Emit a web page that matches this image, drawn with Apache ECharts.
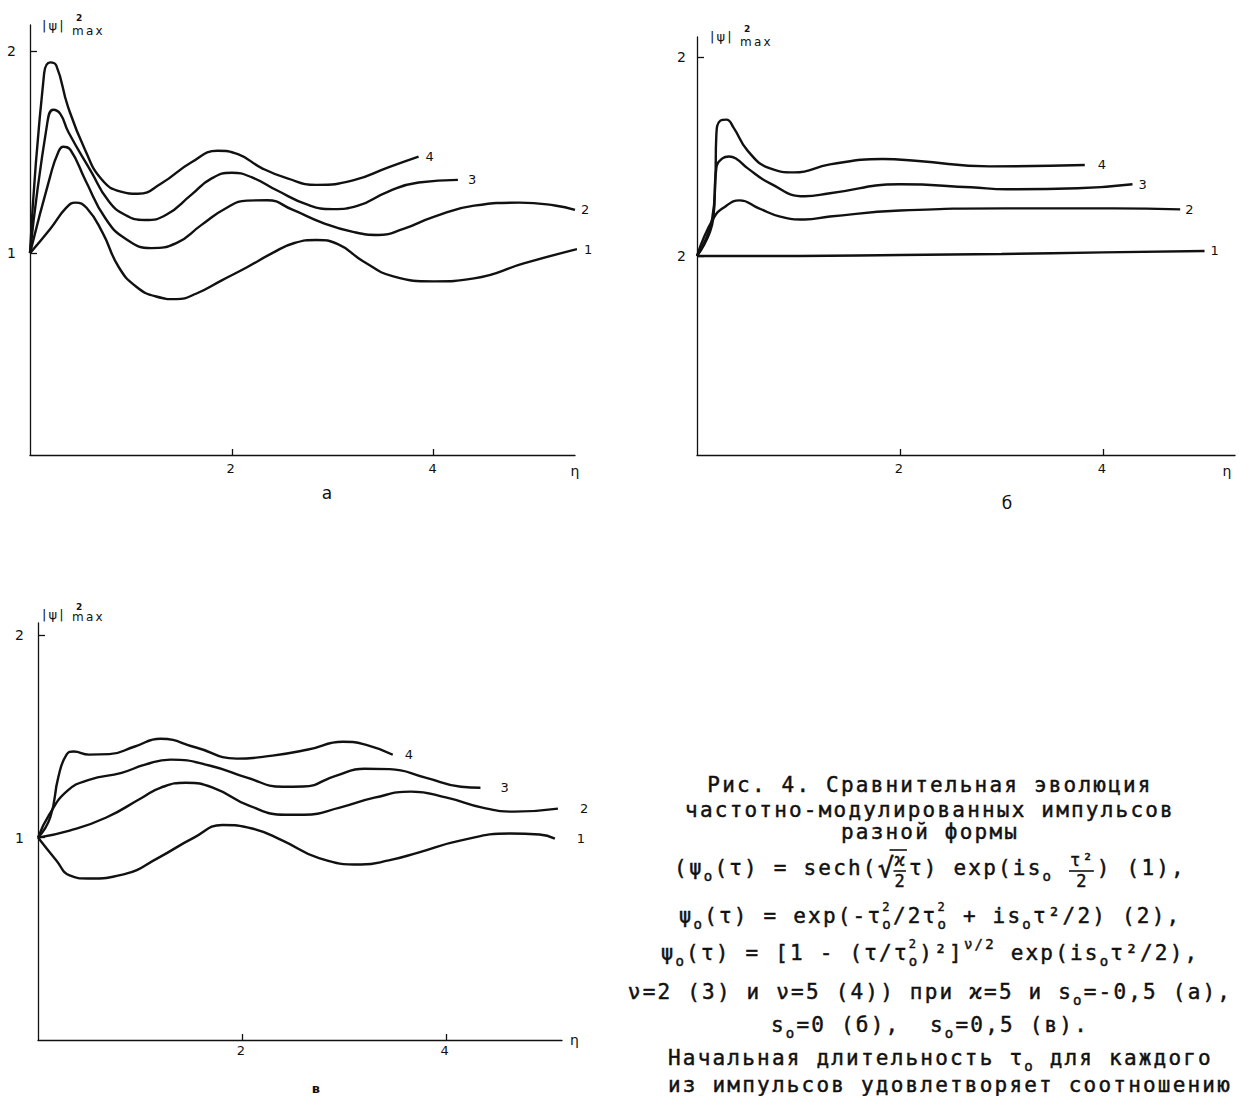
<!DOCTYPE html>
<html>
<head>
<meta charset="utf-8">
<script src="https://cdn.jsdelivr.net/npm/echarts@6/dist/echarts.min.js"></script>
<style>
  html, body { margin: 0; padding: 0; background: #fff; }
  #main { width: 1239px; height: 1096px; }
  /* typewriter look: wide letter spacing (svg renderer) */
  #main text { letter-spacing: 2.2px; }
</style>
</head>
<body>
<div id="main"></div>
<script>
// ---- panel а (s0 = -0,5) ----
var a1 = [[0, 1], [0.2, 1.12], [0.36, 1.225], [0.45, 1.25], [0.56, 1.225], [0.72, 1.1], [0.88, 0.93], [1.05, 0.835], [1.25, 0.785], [1.45, 0.772], [1.65, 0.8], [1.9, 0.865], [2.15, 0.93], [2.4, 1.0], [2.62, 1.05], [2.84, 1.065], [3.05, 1.045], [3.3, 0.96], [3.6, 0.885], [4.0, 0.86], [4.4, 0.875], [4.9, 0.95], [5.38, 1.015], [5.57, 1.035]];
var a2 = [[0, 1], [0.2, 1.38], [0.28, 1.5], [0.33, 1.527], [0.4, 1.512], [0.55, 1.36], [0.75, 1.17], [0.95, 1.07], [1.2, 1.025], [1.45, 1.05], [1.7, 1.14], [1.95, 1.225], [2.15, 1.26], [2.35, 1.262], [2.6, 1.215], [2.9, 1.15], [3.2, 1.105], [3.45, 1.09], [3.7, 1.12], [4.0, 1.18], [4.4, 1.235], [4.85, 1.25], [5.2, 1.236], [5.4, 1.214]];
var a3 = [[0, 1], [0.17, 1.64], [0.23, 1.71], [0.3, 1.69], [0.38, 1.6], [0.61, 1.4], [0.77, 1.264], [0.94, 1.19], [1.14, 1.164], [1.35, 1.19], [1.6, 1.29], [1.8, 1.37], [2.0, 1.398], [2.2, 1.375], [2.45, 1.31], [2.75, 1.24], [3.0, 1.218], [3.25, 1.235], [3.55, 1.305], [3.85, 1.35], [4.24, 1.363]];
var a4 = [[0, 1], [0.14, 1.89], [0.2, 1.945], [0.26, 1.93], [0.376, 1.726], [0.545, 1.512], [0.713, 1.363], [0.9, 1.305], [1.07, 1.294], [1.3, 1.345], [1.6, 1.45], [1.86, 1.507], [2.06, 1.49], [2.3, 1.42], [2.55, 1.37], [2.84, 1.338], [3.2, 1.36], [3.55, 1.425], [3.85, 1.478]];

// ---- panel б (s0 = 0) ----
var b1 = [[0, 1], [1.0, 1.0], [2.0, 1.005], [3.0, 1.01], [4.0, 1.018], [5.0, 1.025]];
var b2 = [[0, 1], [0.16, 1.188], [0.28, 1.249], [0.42, 1.279], [0.61, 1.239], [0.82, 1.198], [1.06, 1.183], [1.31, 1.198], [2.0, 1.228], [3.05, 1.239], [4.1, 1.239], [4.76, 1.234]];
var b3 = [[0, 1], [0.16, 1.188], [0.19, 1.44], [0.25, 1.49], [0.315, 1.5], [0.39, 1.487], [0.5, 1.44], [0.72, 1.365], [1.06, 1.3], [1.31, 1.315], [2.0, 1.36], [2.7, 1.345], [3.05, 1.335], [3.75, 1.34], [4.29, 1.36]];
var b4 = [[0, 1], [0.15, 1.188], [0.18, 1.376], [0.19, 1.6], [0.23, 1.68], [0.29, 1.685], [0.36, 1.645], [0.5, 1.528], [0.72, 1.44], [0.96, 1.42], [1.31, 1.46], [1.83, 1.487], [2.18, 1.477], [2.88, 1.45], [3.82, 1.457]];

// ---- panel в (s0 = 0,5) ----
var c1 = [[0, 1], [0.18, 0.887], [0.31, 0.813], [0.49, 0.798], [0.84, 0.818], [1.18, 0.9], [1.53, 1.0], [1.81, 1.062], [2.1, 1.045], [2.4, 0.985], [2.75, 0.9], [3.17, 0.867], [3.44, 0.887], [3.73, 0.926], [4.14, 0.985], [4.63, 1.02], [4.92, 1.015], [5.07, 0.995]];
var c2 = [[0, 1], [0.31, 1.034], [0.67, 1.099], [1.02, 1.197], [1.2, 1.246], [1.45, 1.271], [1.72, 1.246], [2.07, 1.158], [2.43, 1.113], [2.61, 1.113], [2.96, 1.148], [3.3, 1.197], [3.66, 1.227], [4.01, 1.197], [4.36, 1.148], [4.67, 1.128], [5.1, 1.143]];
var c3 = [[0, 1], [0.11, 1.113], [0.29, 1.232], [0.5, 1.285], [0.82, 1.32], [1.05, 1.36], [1.3, 1.385], [1.69, 1.355], [2.05, 1.296], [2.4, 1.251], [2.6, 1.252], [2.92, 1.305], [3.2, 1.34], [3.45, 1.338], [3.8, 1.296], [4.15, 1.251], [4.34, 1.246]];
var c4 = [[0, 1], [0.12, 1.1], [0.2, 1.3], [0.28, 1.41], [0.35, 1.425], [0.5, 1.41], [0.7, 1.412], [0.95, 1.45], [1.2, 1.488], [1.55, 1.445], [1.95, 1.39], [2.3, 1.405], [2.65, 1.435], [2.99, 1.473], [3.22, 1.458], [3.48, 1.409]];

// ticks
var xTickValues = [2, 4];
var yTickValues = [1, 2];
var yTickLabels = [['1', '2'], ['2', '2'], ['1', '2']];   // panel б really prints "2" twice
var panelNames = ['а', 'б', 'в'];
var xAxisName = 'η';

// caption text
var captionLines = [
  ['Рис. 4. Сравнительная эволюция'],
  ['частотно-модулированных импульсов'],
  ['разной формы'],
  ['(ψ', {sub: 'o'}, '(τ) = sech(', {num: 'ϰ', den: '2', root: true}, 'τ) exp(is', {sub: 'o'}, ' ', {num: 'τ²', den: '2'}, ') (1),'],
  ['ψ', {sub: 'o'}, '(τ) = exp(-τ', {sup: '2', sub: 'o'}, '/2τ', {sup: '2', sub: 'o'}, ' + is', {sub: 'o'}, 'τ²/2) (2),'],
  ['ψ', {sub: 'o'}, '(τ) = [1 - (τ/τ', {sup: '2', sub: 'o'}, ')²]', {sup: 'ν/2'}, ' exp(is', {sub: 'o'}, 'τ²/2),'],
  ['ν=2 (3) и ν=5 (4)) при ϰ=5 и s', {sub: 'o'}, '=-0,5 (а),'],
  ['s', {sub: 'o'}, '=0 (б),  s', {sub: 'o'}, '=0,5 (в).'],
  ['Начальная длительность τ', {sub: 'o'}, ' для каждого'],
  ['из импульсов удовлетворяет соотношению']
];

// ---- layout ----
var grids = [
  {left: 30, top: 25, width: 545, height: 430},
  {left: 697, top: 37, width: 538, height: 418},
  {left: 38, top: 623, width: 524, height: 417}
];
var xMax = [5.4, 5.3, 5.14];
var yMax = [2.13, 2.1, 2.06];
var ink = '#111';
var sans = '"DejaVu Sans", "Liberation Sans", sans-serif';
var mono = '"DejaVu Sans Mono", "Liberation Mono", monospace';
var LS = 2.2;                       // must match the css letter-spacing
var FS = 21, SUB = 14, SUP = 14, FR = 17;
var captionY = [785, 810, 832, 868, 916, 953, 992, 1025, 1058, 1085];
var captionCx = 930, captionLeft = 668;

function adv(size) { return size * 0.602 + LS; }
function len(s) { return Array.from(s).length; }

function partWidth(p) {
  if (typeof p === 'string') return len(p) * adv(FS);
  if (p.num) return Math.max(len(p.num), len(p.den)) * adv(FR) + 4 + (p.root ? adv(FS) : 0);
  var n = Math.max(p.sup ? len(p.sup) : 0, p.sub ? len(p.sub) : 0);
  return n * adv(p.sup && !p.sub ? SUP : SUB);
}

function txt(s, x, y, size, align) {
  return {type: 'text', x: x, y: y, silent: true,
    style: {text: s, fontSize: size, fontFamily: mono, fill: ink, stroke: ink, lineWidth: 0.45,
      align: align || 'left', verticalAlign: 'middle'}};
}
function seg(x1, y1, x2, y2) {
  return {type: 'line', silent: true, shape: {x1: x1, y1: y1, x2: x2, y2: y2}, style: {stroke: ink, lineWidth: 1.6}};
}

function buildLine(parts, y, x0, centered) {
  var w = 0;
  parts.forEach(function (p) { w += partWidth(p); });
  var x = centered ? x0 - w / 2 : x0;
  var out = [];
  parts.forEach(function (p) {
    var pw = partWidth(p);
    if (typeof p === 'string') {
      out.push(txt(p, x, y, FS));
    } else if (p.num) {
      var fx = x;
      if (p.root) {
        out.push(txt('√', x, y - 1, 27));
        fx = x + adv(FS);
        out.push(seg(fx - 3, y - 18, fx + pw - adv(FS) - 2, y - 18));
      }
      var fw = pw - (p.root ? adv(FS) : 0);
      out.push(txt(p.num, fx + fw / 2, y - 8, FR, 'center'));
      out.push(txt(p.den, fx + fw / 2, y + 13, FR, 'center'));
      out.push(seg(fx + 1, y + 3, fx + fw - 3, y + 3));
    } else {
      if (p.sup) out.push(txt(p.sup, x, y - 9, p.sub ? 12 : SUP));
      if (p.sub) out.push(txt(p.sub, x, y + 8, SUB));
    }
    x += pw;
  });
  return out;
}

var graphics = [];
captionLines.forEach(function (parts, i) {
  var left = i >= 8;
  graphics = graphics.concat(buildLine(parts, captionY[i], left ? captionLeft : captionCx, !left));
});

// |ψ|²max axis titles
var yNamePos = [[42, 25], [710, 36], [42, 614]];
yNamePos.forEach(function (p, i) {
  var dy = i === 2 ? 3 : 6;
  graphics.push({type: 'text', x: p[0], y: p[1], silent: true,
    style: {text: '|ψ|', fontSize: 13, fontFamily: sans, fill: ink, verticalAlign: 'middle'}});
  graphics.push({type: 'text', x: p[0] + 34, y: p[1] - 7, silent: true,
    style: {text: '2', fontSize: 9, fontWeight: 'bold', fontFamily: sans, fill: ink, verticalAlign: 'middle'}});
  graphics.push({type: 'text', x: p[0] + 30, y: p[1] + dy, silent: true,
    style: {text: 'max', fontSize: 12, fontFamily: sans, fill: ink, verticalAlign: 'middle'}});
});

// panel letters
var panelPos = [[328, 493, 17, 'normal'], [1008, 503, 17, 'normal'], [317, 1088, 13, 'bold']];
panelPos.forEach(function (p, i) {
  graphics.push({type: 'text', x: p[0], y: p[1], silent: true,
    style: {text: panelNames[i], fontSize: p[2], fontWeight: p[3], fontFamily: sans, fill: ink, align: 'center', verticalAlign: 'middle'}});
});

var chart = echarts.init(document.getElementById('main'), null, {renderer: 'svg'});

var xAxes = [], yAxes = [], gridOpts = [];
grids.forEach(function (g, i) {
  gridOpts.push({left: g.left, top: g.top, width: g.width, height: g.height, containLabel: false, outerBoundsMode: 'none'});
  var below = i < 2;
  xAxes.push({
    type: 'value', gridIndex: i, min: 0, max: xMax[i], interval: 2,
    name: xAxisName, nameLocation: 'end', nameGap: i === 0 ? 1 : (i === 1 ? -7 : 8),
    nameTextStyle: below
      ? {fontSize: 14, fontFamily: sans, color: ink, align: 'center', verticalAlign: 'top', padding: [9, 0, 0, 0]}
      : {fontSize: 14, fontFamily: sans, color: ink, align: 'left', verticalAlign: 'middle'},
    axisLine: {show: true, onZero: false, lineStyle: {color: ink, width: 1.3}},
    axisTick: {show: true, inside: true, length: 6, customValues: xTickValues, lineStyle: {color: ink, width: 1.3}},
    axisLabel: {show: true, customValues: xTickValues, margin: below ? 7 : 4, fontSize: 13, fontFamily: sans, color: ink,
      formatter: function (v) { return xTickValues.indexOf(v) < 0 ? '' : String(v); }},
    splitLine: {show: false}
  });
  yAxes.push({
    type: 'value', gridIndex: i, min: 0, max: yMax[i], interval: 1,
    axisLine: {show: true, lineStyle: {color: ink, width: 1.3}},
    axisTick: {show: true, inside: true, length: 7, customValues: yTickValues, lineStyle: {color: ink, width: 1.3}},
    axisLabel: {show: true, customValues: yTickValues, margin: i === 1 ? 9 : 12, fontSize: 14, fontFamily: sans, color: ink,
      formatter: function (v) { var k = yTickValues.indexOf(v); return k < 0 ? '' : yTickLabels[i][k]; }},
    splitLine: {show: false}
  });
});

function curve(name, data, gi, dist) {
  return {
    type: 'line', name: name, data: data, xAxisIndex: gi, yAxisIndex: gi,
    symbol: 'none', showSymbol: false, smooth: 0.5, clip: false, silent: true,
    lineStyle: {color: ink, width: 2.4},
    endLabel: {show: true, formatter: '{a}', distance: dist, color: ink, fontSize: 13, fontFamily: sans}
  };
}

var series = [
  curve('1', a1, 0, 7), curve('2', a2, 0, 6), curve('3', a3, 0, 10), curve('4', a4, 0, 7),
  curve('1', b1, 1, 6), curve('2', b2, 1, 5), curve('3', b3, 1, 6), curve('4', b4, 1, 13),
  curve('1', c1, 2, 22), curve('2', c2, 2, 22), curve('3', c3, 2, 20), curve('4', c4, 2, 12)
];

chart.setOption({
  animation: false,
  backgroundColor: '#fff',
  grid: gridOpts,
  xAxis: xAxes,
  yAxis: yAxes,
  series: series,
  graphic: {elements: graphics}
});
</script>
</body>
</html>
